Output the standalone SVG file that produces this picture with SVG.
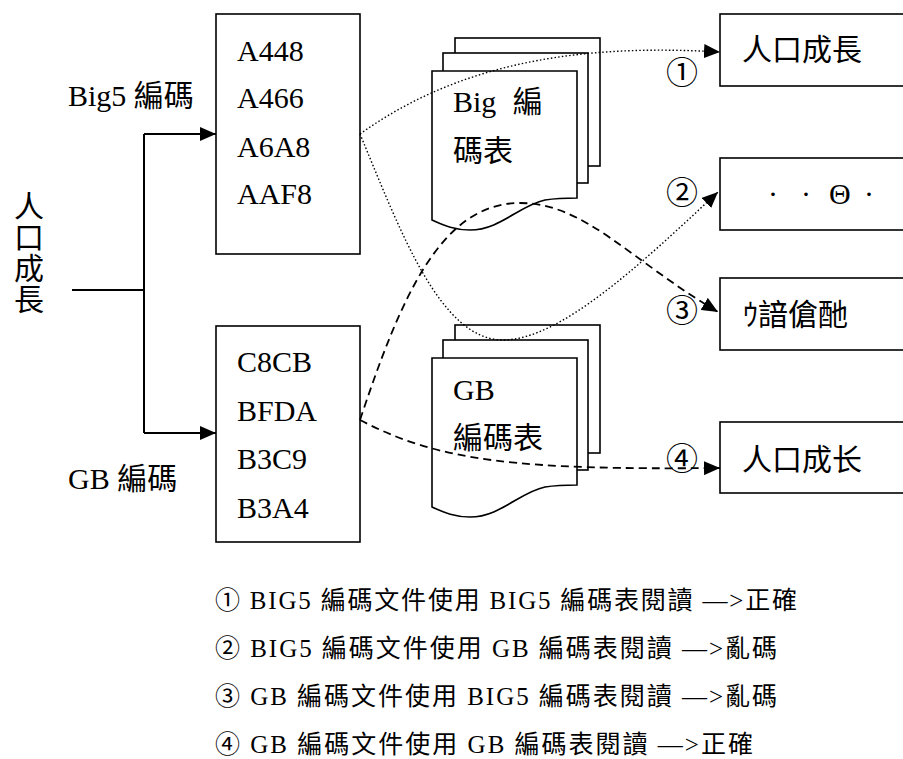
<svg xmlns="http://www.w3.org/2000/svg" xmlns:xlink="http://www.w3.org/1999/xlink" width="903" height="759" viewBox="0 0 903 759">
<style>
  .t { font-family: "Liberation Serif", "Noto Sans CJK TC", serif; font-size: 30px; fill: #000; }
  .cj { font-family: "Noto Sans CJK TC", "Noto Sans CJK SC", sans-serif; font-size: 30px; fill: #000; }
  .num { font-family: "Noto Sans CJK TC", sans-serif; font-size: 32px; fill: #000; }
  .leg { font-family: "Liberation Serif", "Noto Sans CJK TC", serif; font-size: 25px; fill: #000; }
  .box { fill: #fff; stroke: #000; stroke-width: 1.6; }
  .tree { fill: none; stroke: #000; stroke-width: 2; }
  .dot { fill: none; stroke: #000; stroke-width: 1.4; stroke-dasharray: 1.5 2.2; }
  .dash { fill: none; stroke: #000; stroke-width: 1.8; stroke-dasharray: 8 5; }
</style>
<defs>
  <marker id="ah" viewBox="0 0 16 14" refX="16" refY="7" markerWidth="16" markerHeight="14" markerUnits="userSpaceOnUse" orient="auto">
    <path d="M0,0 L16,7 L0,14 Z" fill="#000"/>
  </marker>
  <g id="docstack">
    <rect class="box" x="455" y="38" width="145" height="128"/>
    <rect class="box" x="443" y="53" width="145" height="130"/>
    <path class="box" d="M432,71 L577,71 L577,198 C 568,198 558,198 545,200 C 520,205 500,230 470,230 C 455,230 445,226 432,220 Z"/>
  </g>
</defs>

<g id="source">
  <text class="cj" x="29" y="191" style="writing-mode: vertical-rl; letter-spacing: 1px;">人口成長</text>
</g>

<g id="label-big5"><text class="t" x="68" y="106">Big5 編碼</text></g>
<g id="label-gb"><text class="t" x="68" y="489">GB 編碼</text></g>

<g id="big5-codes">
  <rect class="box" x="216" y="14" width="144" height="240"/>
  <text class="t" x="237" y="61">A448</text>
  <text class="t" x="237" y="108">A466</text>
  <text class="t" x="237" y="157">A6A8</text>
  <text class="t" x="237" y="204">AAF8</text>
</g>

<g id="gb-codes">
  <rect class="box" x="216" y="326" width="144" height="216"/>
  <text class="t" x="237" y="372">C8CB</text>
  <text class="t" x="237" y="421">BFDA</text>
  <text class="t" x="237" y="469">B3C9</text>
  <text class="t" x="237" y="518">B3A4</text>
</g>

<g id="big5-table">
  <use xlink:href="#docstack"/>
  <text class="t" x="453" y="112">Big <tspan dx="9">編</tspan></text>
  <text class="t" x="453" y="161">碼表</text>
</g>

<g id="gb-table">
  <use xlink:href="#docstack" transform="translate(0,287)"/>
  <text class="t" x="453" y="400">GB</text>
  <text class="t" x="453" y="448">編碼表</text>
</g>

<g id="result1">
  <rect class="box" x="720" y="14" width="200" height="72"/>
  <text class="cj" x="742" y="60">人口成長</text>
</g>
<g id="result2">
  <rect class="box" x="720" y="158" width="200" height="72"/>
  <text class="t" x="768 785 801 815 829 855 864" y="204">· · Θ ·</text>
</g>
<g id="result3">
  <rect class="box" x="720" y="278" width="200" height="72"/>
  <text class="cj" x="743" y="325">ｳ諳傖酏</text>
</g>
<g id="result4">
  <rect class="box" x="720" y="422" width="200" height="71"/>
  <text class="cj" x="742" y="470">人口成长</text>
</g>

<g id="connectors">
  <path class="tree" d="M72,290 H144"/>
  <path class="tree" d="M144,134 V433"/>
  <path class="tree" d="M144,134 H216" marker-end="url(#ah)"/>
  <path class="tree" d="M144,433 H216" marker-end="url(#ah)"/>
  <path class="dot" d="M360,134 C 470,55 600,45 720,52" marker-end="url(#ah)"/>
  <path class="dot" d="M360,134 C 400,230 440,340 503,340 C 560,340 640,265 718,192" marker-end="url(#ah)"/>
  <path class="dash" d="M360,420 C 400,300 440,203 520,203 C 585,203 630,260 718,312" marker-end="url(#ah)"/>
  <path class="dash" d="M360,420 C 440,462 520,470 720,468" marker-end="url(#ah)"/>
</g>

<g id="circle-labels">
  <text class="num" x="666" y="84">①</text>
  <text class="num" x="666" y="204">②</text>
  <text class="num" x="666" y="322">③</text>
  <text class="num" x="666" y="470">④</text>
</g>

<g id="legend">
  <text class="leg" x="215" y="609" textLength="582" lengthAdjust="spacing">① BIG5 編碼文件使用 BIG5 編碼表閱讀 —&gt;正確</text>
  <text class="leg" x="215" y="657" textLength="562" lengthAdjust="spacing">② BIG5 編碼文件使用 GB 編碼表閱讀 —&gt;亂碼</text>
  <text class="leg" x="215" y="705" textLength="562" lengthAdjust="spacing">③ GB 編碼文件使用 BIG5 編碼表閱讀 —&gt;亂碼</text>
  <text class="leg" x="215" y="753" textLength="538" lengthAdjust="spacing">④ GB 編碼文件使用 GB 編碼表閱讀 —&gt;正確</text>
</g>
</svg>
